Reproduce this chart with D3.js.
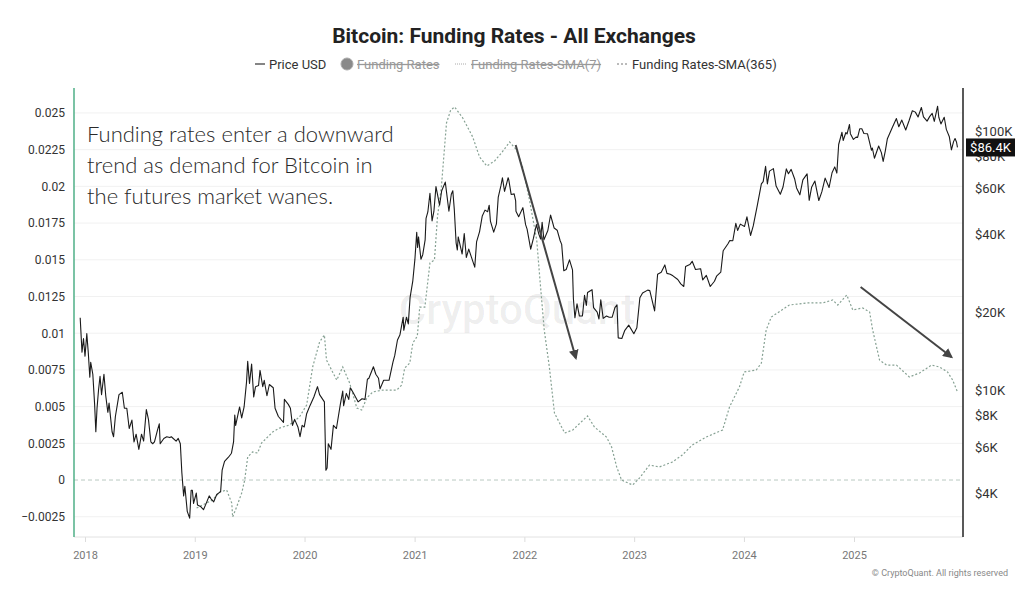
<!DOCTYPE html>
<html>
<head>
<meta charset="utf-8">
<script src="https://cdn.jsdelivr.net/npm/d3@7"></script>
<style>
html,body{margin:0;padding:0;background:#fff;}
svg{display:block;font-family:Roboto,"Noto Sans",sans-serif;}
</style>
</head>
<body>
<svg id="chart" width="1024" height="595"></svg>
<script>
// ---- Data ----
const title = "Bitcoin: Funding Rates - All Exchanges";
const legendLabels = ["Price USD", "Funding Rates", "Funding Rates-SMA(7)", "Funding Rates-SMA(365)"];
const yearTicks = ["2018","2019","2020","2021","2022","2023","2024","2025"];
const fundingTicks = [-0.0025,0,0.0025,0.005,0.0075,0.01,0.0125,0.015,0.0175,0.02,0.0225,0.025];
const priceTicks = [4000,6000,8000,10000,20000,40000,60000,80000,100000];
const lastPriceLabel = "$86.4K";
const annotationLines = ["Funding rates enter a downward","trend as demand for Bitcoin in","the futures market wanes."];

const priceUSD = [
["2017-12-16",19000],["2017-12-22",14000],["2017-12-27",15800],["2018-01-01",13500],["2018-01-07",16500],
["2018-01-12",13900],["2018-01-17",11200],["2018-01-20",12800],["2018-01-27",11500],["2018-02-02",8800],
["2018-02-06",6900],["2018-02-10",8500],["2018-02-15",10000],["2018-02-20",11300],["2018-02-25",9600],
["2018-03-05",11500],["2018-03-11",9500],["2018-03-18",8200],["2018-03-22",8900],["2018-04-01",6900],
["2018-04-06",6600],["2018-04-12",7900],["2018-04-24",9600],["2018-05-05",9800],["2018-05-12",8500],
["2018-05-20",8500],["2018-05-28",7100],["2018-06-06",7650],["2018-06-13",6300],["2018-06-20",6750],
["2018-06-29",5900],["2018-07-08",6750],["2018-07-15",6350],["2018-07-24",8400],["2018-07-31",7700],
["2018-08-08",6300],["2018-08-14",6200],["2018-08-20",6300],["2018-08-30",7000],["2018-09-05",7400],
["2018-09-08",6200],["2018-09-20",6500],["2018-09-30",6600],["2018-10-10",6550],["2018-10-15",6600],
["2018-10-31",6350],["2018-11-07",6500],["2018-11-14",6200],["2018-11-19",4800],["2018-11-25",3900],
["2018-11-29",4250],["2018-12-07",3400],["2018-12-15",3200],["2018-12-20",4100],["2018-12-24",4100],
["2018-12-28",3650],["2019-01-06",4000],["2019-01-10",3600],["2019-01-20",3550],["2019-01-30",3450],
["2019-02-08",3650],["2019-02-18",3900],["2019-02-24",3800],["2019-03-05",3700],["2019-03-15",3950],
["2019-03-28",4050],["2019-04-02",4900],["2019-04-10",5300],["2019-04-23",5500],["2019-05-03",5700],
["2019-05-10",6300],["2019-05-14",8000],["2019-05-17",7300],["2019-05-30",8600],["2019-06-06",7800],
["2019-06-14",8600],["2019-06-22",10700],["2019-06-26",12900],["2019-07-02",10600],["2019-07-09",12600],
["2019-07-16",9400],["2019-07-22",10300],["2019-08-01",10400],["2019-08-06",11900],["2019-08-15",10300],
["2019-08-20",10900],["2019-08-29",9500],["2019-09-06",10500],["2019-09-19",10200],["2019-09-25",8500],
["2019-10-06",7900],["2019-10-23",7500],["2019-10-26",9200],["2019-11-08",8800],["2019-11-15",8500],
["2019-11-22",7300],["2019-11-29",7700],["2019-12-10",7200],["2019-12-17",6600],["2019-12-24",7300],
["2019-12-31",7200],["2020-01-08",8100],["2020-01-19",8700],["2020-02-01",9400],["2020-02-13",10300],
["2020-02-20",9600],["2020-03-07",9000],["2020-03-12",4900],["2020-03-16",5000],["2020-03-20",6200],
["2020-03-29",5900],["2020-04-06",7300],["2020-04-16",7100],["2020-04-29",8800],["2020-05-07",9900],
["2020-05-10",8700],["2020-05-19",9700],["2020-05-27",9200],["2020-06-01",10200],["2020-06-10",9800],
["2020-06-27",9000],["2020-07-10",9250],["2020-07-20",9200],["2020-07-28",11000],["2020-08-02",11100],
["2020-08-17",12300],["2020-08-25",11500],["2020-09-03",11100],["2020-09-08",10100],["2020-09-20",10900],
["2020-10-08",10900],["2020-10-21",12800],["2020-10-27",13600],["2020-11-05",15600],["2020-11-13",16300],
["2020-11-24",19100],["2020-11-26",17000],["2020-12-05",19100],["2020-12-11",18000],["2020-12-17",22800],
["2020-12-26",26400],["2021-01-02",32000],["2021-01-08",40600],["2021-01-11",35500],["2021-01-14",39000],
["2021-01-22",32000],["2021-01-28",33300],["2021-02-05",38000],["2021-02-08",46000],["2021-02-14",48700],
["2021-02-21",57500],["2021-02-28",45000],["2021-03-06",48800],["2021-03-13",61000],["2021-03-25",51700],
["2021-04-01",58800],["2021-04-13",63500],["2021-04-25",49000],["2021-05-03",57000],["2021-05-08",58800],
["2021-05-13",49700],["2021-05-19",37000],["2021-05-23",34700],["2021-05-26",39000],["2021-06-08",33500],
["2021-06-15",40200],["2021-06-22",32500],["2021-06-30",35000],["2021-07-08",32800],["2021-07-20",29800],
["2021-07-26",37300],["2021-08-05",40900],["2021-08-14",47000],["2021-08-23",49500],["2021-09-01",48800],
["2021-09-06",51700],["2021-09-10",44900],["2021-09-21",40700],["2021-09-30",43800],["2021-10-06",55400],
["2021-10-15",61500],["2021-10-20",66000],["2021-10-27",58500],["2021-11-08",66000],["2021-11-10",64900],
["2021-11-18",56900],["2021-11-28",57200],["2021-12-03",53700],["2021-12-04",49000],["2021-12-13",46700],
["2021-12-27",50600],["2022-01-05",43500],["2022-01-10",41800],["2022-01-22",35000],["2022-01-31",38500],
["2022-02-10",43500],["2022-02-18",40000],["2022-02-24",38300],["2022-03-01",44400],["2022-03-07",38000],
["2022-03-20",41300],["2022-03-29",47400],["2022-04-10",42200],["2022-04-20",41400],["2022-04-30",37700],
["2022-05-05",36500],["2022-05-12",28900],["2022-05-20",29200],["2022-05-31",31800],["2022-06-10",29100],
["2022-06-13",22500],["2022-06-18",19000],["2022-06-25",21500],["2022-07-03",19300],["2022-07-13",19300],
["2022-07-20",23200],["2022-07-26",21200],["2022-07-30",23800],["2022-08-14",24400],["2022-08-19",20800],
["2022-08-31",20000],["2022-09-06",18800],["2022-09-12",22300],["2022-09-20",18900],["2022-10-01",19300],
["2022-10-10",19100],["2022-10-20",19100],["2022-10-29",20800],["2022-11-05",21300],["2022-11-09",15900],
["2022-11-21",15800],["2022-12-01",17000],["2022-12-14",17800],["2022-12-31",16500],["2023-01-10",17400],
["2023-01-20",22700],["2023-01-29",23700],["2023-02-15",24300],["2023-02-22",24200],["2023-03-10",20200],
["2023-03-20",28000],["2023-04-01",28500],["2023-04-13",30400],["2023-04-20",28200],["2023-05-01",28000],
["2023-05-10",27600],["2023-05-26",26700],["2023-06-05",25700],["2023-06-15",25100],["2023-06-21",30000],
["2023-07-05",30500],["2023-07-13",31400],["2023-07-24",29200],["2023-08-10",29400],["2023-08-17",26600],
["2023-08-29",27700],["2023-09-11",25100],["2023-09-25",26300],["2023-10-02",27500],["2023-10-16",28500],
["2023-10-24",34500],["2023-11-09",36700],["2023-11-15",37800],["2023-11-25",37700],["2023-12-05",44000],
["2023-12-11",41300],["2023-12-20",43700],["2024-01-03",42800],["2024-01-11",46600],["2024-01-23",39500],
["2024-02-01",43000],["2024-02-15",52000],["2024-02-28",62500],["2024-03-05",63800],["2024-03-13",73000],
["2024-03-19",62500],["2024-03-26",70000],["2024-04-08",71600],["2024-04-17",61300],["2024-05-01",57000],
["2024-05-10",60800],["2024-05-21",71400],["2024-05-28",68400],["2024-06-06",71100],["2024-06-18",65100],
["2024-06-24",60300],["2024-07-05",56700],["2024-07-15",64800],["2024-07-29",68300],["2024-08-05",54000],
["2024-08-13",60600],["2024-08-24",64100],["2024-09-06",53900],["2024-09-16",58200],["2024-09-27",65800],
["2024-10-10",60500],["2024-10-20",69000],["2024-10-29",72700],["2024-11-05",68800],["2024-11-11",88700],
["2024-11-22",98900],["2024-11-26",91900],["2024-12-05",98700],["2024-12-09",97400],["2024-12-17",106000],
["2024-12-20",97700],["2024-12-30",92800],["2025-01-08",94700],["2025-01-13",94500],["2025-01-20",102000],
["2025-01-27",102000],["2025-02-03",97800],["2025-02-15",97600],["2025-02-28",84300],["2025-03-03",86000],
["2025-03-10",78500],["2025-03-24",87500],["2025-04-02",82500],["2025-04-08",76300],["2025-04-15",83600],
["2025-04-22",93400],["2025-05-08",103000],["2025-05-22",111700],["2025-05-30",103900],["2025-06-09",110200],
["2025-06-22",100900],["2025-07-03",109600],["2025-07-14",119800],["2025-07-24",118300],["2025-08-02",113300],
["2025-08-13",123300],["2025-08-20",113500],["2025-09-01",109200],["2025-09-10",113900],["2025-09-18",117000],
["2025-09-25",109000],["2025-10-06",124700],["2025-10-10",113000],["2025-10-17",106500],["2025-10-28",113000],
["2025-11-04",101500],["2025-11-14",95000],["2025-11-21",84600],["2025-11-28",91000],["2025-12-03",93500],
["2025-12-08",90500],["2025-12-11",86400]
];

const fundingSMA365 = [
["2019-01-07",-0.00191],["2019-03-01",-0.00136],["2019-03-25",-0.00082],["2019-04-17",-0.00068],["2019-05-04",-0.00157],
["2019-05-07",-0.00252],["2019-05-20",-0.00184],["2019-06-06",-0.00089],["2019-06-16",0.0],["2019-06-26",0.00157],
["2019-07-12",0.00191],["2019-07-29",0.00184],["2019-08-11",0.00252],["2019-08-28",0.00286],["2019-09-17",0.00327],
["2019-10-10",0.00354],["2019-11-12",0.00375],["2019-12-15",0.00429],["2020-01-08",0.00511],["2020-01-28",0.0077],
["2020-02-20",0.0094],["2020-03-07",0.00988],["2020-03-14",0.00817],["2020-04-17",0.00681],["2020-05-07",0.0077],
["2020-05-30",0.00661],["2020-06-23",0.0049],["2020-07-09",0.00477],["2020-07-26",0.00559],["2020-08-15",0.006],
["2020-09-17",0.00613],["2020-11-03",0.00613],["2020-11-19",0.00647],["2020-11-29",0.00763],["2020-12-16",0.00797],
["2020-12-26",0.00933],["2021-01-10",0.0098],["2021-01-18",0.01178],["2021-02-04",0.01178],["2021-02-21",0.01478],
["2021-03-08",0.01499],["2021-03-18",0.01792],["2021-03-31",0.01996],["2021-04-17",0.02432],["2021-05-01",0.0252],
["2021-05-14",0.02541],["2021-06-10",0.02466],["2021-07-13",0.02337],["2021-08-05",0.022],["2021-08-29",0.02139],
["2021-09-24",0.02173],["2021-10-17",0.02228],["2021-11-13",0.02302],["2021-12-06",0.02248],["2021-12-26",0.02132],
["2022-01-18",0.01907],["2022-02-11",0.01635],["2022-02-21",0.01383],["2022-03-08",0.01022],["2022-03-25",0.0077],
["2022-04-11",0.00456],["2022-04-28",0.00388],["2022-05-15",0.0032],["2022-06-11",0.00341],["2022-07-30",0.00436],
["2022-08-22",0.00361],["2022-10-01",0.00293],["2022-10-18",0.00225],["2022-11-04",0.00089],["2022-11-20",0.0],
["2022-12-27",-0.00034],["2023-01-19",0.00014],["2023-02-21",0.00102],["2023-03-26",0.00089],["2023-05-08",0.00123],
["2023-06-10",0.0017],["2023-07-13",0.00238],["2023-08-29",0.00293],["2023-10-22",0.00341],["2023-11-14",0.00497],
["2023-12-17",0.00634],["2024-01-02",0.00736],["2024-02-11",0.00749],["2024-02-28",0.00797],["2024-03-15",0.01022],
["2024-04-01",0.0111],["2024-05-31",0.01192],["2024-07-27",0.01206],["2024-09-19",0.01206],["2024-10-22",0.01226],
["2024-11-08",0.01192],["2024-12-08",0.0126],["2024-12-28",0.01158],["2025-01-30",0.01172],["2025-02-22",0.01144],
["2025-03-04",0.01022],["2025-03-27",0.00817],["2025-04-19",0.00783],["2025-05-22",0.00783],["2025-07-04",0.00702],
["2025-08-07",0.00729],["2025-09-16",0.00783],["2025-10-12",0.0077],["2025-11-08",0.00736],["2025-11-25",0.00681],
["2025-12-11",0.006]
];

// annotation arrows in data units [date, funding rate]
const arrows = [
  [["2021-12-03",0.02282],["2022-06-21",0.00831]],
  [["2025-01-23",0.01315],["2025-11-21",0.00838]]
];

// ---- Layout ----
const svg = d3.select("#chart");
const plot = {left:74, right:963, top:88, bottom:537};
const parse = d3.utcParse("%Y-%m-%d");

const x = d3.scaleUtc()
  .domain([parse("2018-01-01"), parse("2025-01-01")])
  .range([85, 854]);
const yL = d3.scaleLinear().domain([-0.00388, 0.0267]).range([plot.bottom, plot.top]);
const yR = d3.scaleLog().domain([2706, 146600]).range([plot.bottom, plot.top]);

// gridlines
svg.append("g").selectAll("line").data(fundingTicks.filter(d=>d!==0)).join("line")
  .attr("x1", plot.left).attr("x2", plot.right)
  .attr("y1", d=>yL(d)).attr("y2", d=>yL(d))
  .attr("stroke", "#f1f1f1").attr("stroke-width", 1);

// watermark
svg.append("text").attr("x", 517).attr("y", 324).attr("text-anchor","middle")
  .attr("font-size", 42).attr("font-family","Roboto, sans-serif").attr("font-weight",500)
  .attr("fill", "#000").attr("fill-opacity", 0.07).text("CryptoQuant");

// zero line
svg.append("line").attr("x1", plot.left).attr("x2", plot.right)
  .attr("y1", yL(0)).attr("y2", yL(0))
  .attr("stroke", "#b9c9c1").attr("stroke-width", 1).attr("stroke-dasharray", "4,3");

// bottom axis
const xAxis = d3.axisBottom(x)
  .tickValues(yearTicks.map(y => parse(y + "-01-01")))
  .tickFormat(d3.utcFormat("%Y")).tickSize(5).tickSizeOuter(0);
const gx = svg.append("g").attr("transform", `translate(0,${plot.bottom})`).call(xAxis);
gx.select(".domain").remove();
gx.selectAll(".tick line").attr("stroke", "#dcdcdc");
gx.selectAll(".tick text").attr("fill", "#777").attr("font-size", 11).attr("dy", "1.25em")
  .attr("font-family", "Roboto, sans-serif");
svg.append("line").attr("x1", plot.left).attr("x2", plot.right)
  .attr("y1", plot.bottom).attr("y2", plot.bottom).attr("stroke", "#e2e2e2");

// left axis
const yAxisL = d3.axisLeft(yL).tickValues(fundingTicks).tickFormat(d => d3.format("")(+d.toFixed(4))).tickSize(0).tickPadding(9);
const gl = svg.append("g").attr("transform", `translate(${plot.left},0)`).call(yAxisL);
gl.select(".domain").remove();
gl.selectAll(".tick text").attr("fill", "#333").attr("font-size", 12).attr("font-family", "Roboto, sans-serif");
svg.append("line").attr("x1", plot.left).attr("x2", plot.left).attr("y1", plot.top).attr("y2", plot.bottom)
  .attr("stroke", "#4faf87").attr("stroke-width", 1.5);

// right axis
const yAxisR = d3.axisRight(yR).tickValues(priceTicks).tickFormat(d => "$" + (d/1000) + "K").tickSize(0).tickPadding(12);
const gr = svg.append("g").attr("transform", `translate(${plot.right},0)`).call(yAxisR);
gr.select(".domain").remove();
gr.selectAll(".tick text").attr("fill", "#333").attr("font-size", 13).attr("font-family", "Roboto, sans-serif");
svg.append("line").attr("x1", plot.right).attr("x2", plot.right).attr("y1", plot.top).attr("y2", plot.bottom)
  .attr("stroke", "#222").attr("stroke-width", 1.5);

// SMA(365) line
const lineL = d3.line().x(d => x(parse(d[0]))).y(d => yL(d[1]));
svg.append("path").datum(fundingSMA365).attr("d", lineL)
  .attr("fill", "none").attr("stroke", "#86a193").attr("stroke-width", 1.2).attr("stroke-dasharray", "2,2");

// price line
const lineR = d3.line().x(d => x(parse(d[0]))).y(d => yR(d[1]));
svg.append("path").datum(priceUSD).attr("d", lineR)
  .attr("fill", "none").attr("stroke", "#1a1a1a").attr("stroke-width", 1.1).attr("stroke-linejoin", "round");

// last price label
const last = priceUSD[priceUSD.length - 1];
const ly = yR(last[1]);
svg.append("rect").attr("x", plot.right + 3).attr("y", ly - 9).attr("width", 49).attr("height", 18).attr("fill", "#111");
svg.append("text").attr("x", plot.right + 27.5).attr("y", ly + 4.5).attr("text-anchor", "middle")
  .attr("fill", "#fff").attr("font-size", 13).attr("font-family", "Roboto, sans-serif").text(lastPriceLabel);

// arrows
const defs = svg.append("defs");
defs.append("marker").attr("id", "ah").attr("viewBox", "0 0 10 10").attr("refX", 8).attr("refY", 5)
  .attr("markerWidth", 5).attr("markerHeight", 5).attr("orient", "auto")
  .append("path").attr("d", "M0,0 L10,5 L0,10 z").attr("fill", "#444");
svg.append("g").selectAll("line").data(arrows).join("line")
  .attr("x1", d => x(parse(d[0][0]))).attr("y1", d => yL(d[0][1]))
  .attr("x2", d => x(parse(d[1][0]))).attr("y2", d => yL(d[1][1]))
  .attr("stroke", "#444").attr("stroke-width", 2).attr("marker-end", "url(#ah)");

// annotation text
svg.append("g").selectAll("text").data(annotationLines).join("text")
  .attr("x", 87).attr("y", (d, i) => 142 + i * 31)
  .attr("font-size", 22).attr("font-family", "Lato, 'Open Sans', sans-serif").attr("font-weight", 300)
  .attr("fill", "#2a2a2a").text(d => d);

// title
svg.append("text").attr("x", 514).attr("y", 43).attr("text-anchor", "middle")
  .attr("font-size", 21).attr("font-weight", 700).attr("font-family", "Roboto, sans-serif")
  .attr("fill", "#222").text(title);

// legend
const lg = svg.append("g").attr("font-size", 13).attr("font-family", "Roboto, sans-serif");
const ly0 = 64;
lg.append("line").attr("x1", 255).attr("x2", 265).attr("y1", ly0).attr("y2", ly0).attr("stroke", "#333").attr("stroke-width", 1.2);
lg.append("text").attr("x", 269).attr("y", ly0 + 4.5).attr("fill", "#333").text(legendLabels[0]);
lg.append("circle").attr("cx", 347).attr("cy", ly0).attr("r", 6).attr("fill", "#8a8a8a").attr("stroke", "#aaa");
lg.append("text").attr("x", 357).attr("y", ly0 + 4.5).attr("fill", "#999").attr("text-decoration", "line-through").text(legendLabels[1]);
lg.append("line").attr("x1", 455).attr("x2", 467).attr("y1", ly0).attr("y2", ly0).attr("stroke", "#aaa").attr("stroke-dasharray", "1,1");
lg.append("text").attr("x", 471).attr("y", ly0 + 4.5).attr("fill", "#999").attr("text-decoration", "line-through").text(legendLabels[2]);
lg.append("line").attr("x1", 617).attr("x2", 628).attr("y1", ly0).attr("y2", ly0).attr("stroke", "#777").attr("stroke-dasharray", "2,2");
lg.append("text").attr("x", 632).attr("y", ly0 + 4.5).attr("fill", "#333").text(legendLabels[3]);

// credit
svg.append("text").attr("x", 1008).attr("y", 576).attr("text-anchor", "end")
  .attr("font-size", 9).attr("font-family", "Roboto, sans-serif").attr("fill", "#888")
  .text("© CryptoQuant. All rights reserved");
</script>
</body>
</html>
